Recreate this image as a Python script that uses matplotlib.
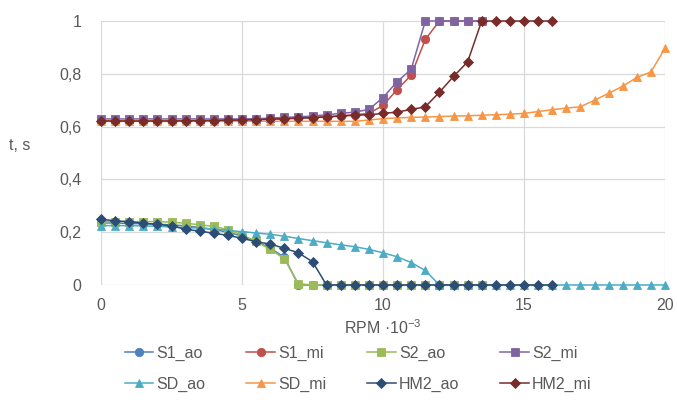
import numpy as np
import matplotlib.pyplot as plt
from matplotlib.ticker import FuncFormatter

plt.rcParams['font.family'] = ['Liberation Sans', 'DejaVu Sans']
plt.rcParams['mathtext.fontset'] = 'custom'
plt.rcParams['mathtext.rm'] = 'Liberation Sans'
plt.rcParams['mathtext.it'] = 'Liberation Sans'

rpm = np.arange(0, 20.01, 0.5)

# t, s  (x step 0.5 kRPM)
s1_ao = [0.235, 0.235, 0.233, 0.232, 0.23, 0.228, 0.224, 0.218, 0.21, 0.2, 0.185, 0.165, 0.14, 0.105,
         0, 0, 0, 0, 0, 0, 0, 0, 0, 0, 0, 0, 0, 0]
s1_mi = [0.622, 0.622, 0.622, 0.622, 0.622, 0.622, 0.622, 0.623, 0.624, 0.625, 0.626, 0.627, 0.628, 0.63,
         0.632, 0.635, 0.638, 0.641, 0.645, 0.65, 0.68, 0.74, 0.795, 0.93, 1.0, 1.0, 1.0, 1.0]
s2_ao = [0.24, 0.24, 0.24, 0.24, 0.24, 0.238, 0.234, 0.228, 0.222, 0.21, 0.19, 0.165, 0.135, 0.1,
         0.005, 0, 0, 0, 0, 0, 0, 0, 0, 0, 0, 0, 0, 0]
s2_mi = [0.629, 0.629, 0.629, 0.629, 0.629, 0.629, 0.629, 0.629, 0.629, 0.629, 0.629, 0.63, 0.632, 0.635,
         0.637, 0.64, 0.645, 0.65, 0.655, 0.665, 0.71, 0.77, 0.817, 1.0, 1.0, 1.0, 1.0, 1.0]
sd_ao = [0.225, 0.225, 0.225, 0.224, 0.222, 0.22, 0.218, 0.215, 0.212, 0.207, 0.202, 0.197, 0.192, 0.185,
         0.176, 0.168, 0.16, 0.152, 0.145, 0.135, 0.122, 0.107, 0.085, 0.055, 0, 0, 0, 0, 0, 0, 0, 0, 0,
         0, 0, 0, 0, 0, 0, 0, 0]
sd_mi = [0.62, 0.62, 0.62, 0.62, 0.62, 0.62, 0.62, 0.62, 0.62, 0.62, 0.62, 0.62, 0.62, 0.62,
         0.62, 0.62, 0.62, 0.62, 0.62, 0.625, 0.63, 0.633, 0.635, 0.636, 0.638, 0.64, 0.641, 0.643,
         0.645, 0.647, 0.65, 0.657, 0.664, 0.67, 0.675, 0.70, 0.726, 0.753, 0.786, 0.807, 0.896]
hm2_ao = [0.249, 0.243, 0.24, 0.234, 0.23, 0.224, 0.211, 0.204, 0.196, 0.188, 0.177, 0.164, 0.155, 0.139,
          0.122, 0.088, 0, 0, 0, 0, 0, 0, 0, 0, 0, 0, 0, 0, 0, 0, 0, 0, 0]
hm2_mi = [0.621, 0.621, 0.621, 0.621, 0.621, 0.621, 0.622, 0.622, 0.623, 0.624, 0.625, 0.626, 0.628, 0.63,
          0.632, 0.634, 0.636, 0.64, 0.643, 0.645, 0.65, 0.655, 0.665, 0.675, 0.73, 0.79, 0.845, 1.0,
          1.0, 1.0, 1.0, 1.0, 1.0]

series = [
    ("S1_ao", s1_ao, '#4F81BD', 'o'),
    ("S1_mi", s1_mi, '#C0504D', 'o'),
    ("S2_ao", s2_ao, '#9BBB59', 's'),
    ("S2_mi", s2_mi, '#8064A2', 's'),
    ("SD_ao", sd_ao, '#4BACC6', '^'),
    ("SD_mi", sd_mi, '#F79646', '^'),
    ("HM2_ao", hm2_ao, '#2C4D75', 'D'),
    ("HM2_mi", hm2_mi, '#772C2A', 'D'),
]

fig = plt.figure(figsize=(6.77, 4.08), dpi=100)
ax = fig.add_axes([101 / 677, 1 - 285 / 408, 564 / 677, 264 / 408])

handles = []
for name, vals, color, mk in series:
    ms = 5 if mk == 'D' else 6
    h, = ax.plot(rpm[:len(vals)], vals, color=color, lw=1.1, marker=mk, markersize=ms,
                 markerfacecolor=color, markeredgecolor=color, markeredgewidth=0.6,
                 label=name, clip_on=False, zorder=3)
    handles.append(h)

ax.set_xlim(0, 20)
ax.set_ylim(0, 1)
ax.set_xticks([0, 5, 10, 15, 20])
ax.set_yticks([0, 0.2, 0.4, 0.6, 0.8, 1.0])
ax.yaxis.set_major_formatter(FuncFormatter(lambda v, p: ('%g' % round(v, 1)).replace('.', ',')))
ax.grid(True, color='#D9D9D9', lw=0.9)
ax.set_axisbelow(True)
for s in ax.spines.values():
    s.set_visible(False)
ax.tick_params(length=0, labelsize=11.5, labelcolor='#595959')
ax.tick_params(axis='y', pad=14)
ax.tick_params(axis='x', pad=9)

ax.set_xlabel("RPM ·10$^{-3}$", fontsize=11.5, color='#595959', labelpad=4)
ax.set_ylabel("t, s", fontsize=11.5, color='#595959', rotation=0, ha='center', va='center')
ax.yaxis.set_label_coords(-0.144, 0.53)

# legend filled row by row (matplotlib fills columns first)
order = [0, 4, 1, 5, 2, 6, 3, 7]
fig.legend([handles[i] for i in order], [series[i][0] for i in order],
           loc='center', bbox_to_anchor=(0.529, 1 - 368.5 / 408), ncol=4, frameon=False,
           fontsize=11.5, handlelength=1.8, handletextpad=0.2, columnspacing=2.55,
           labelspacing=1.0, labelcolor='#595959')

fig.savefig("out.png", dpi=100)
